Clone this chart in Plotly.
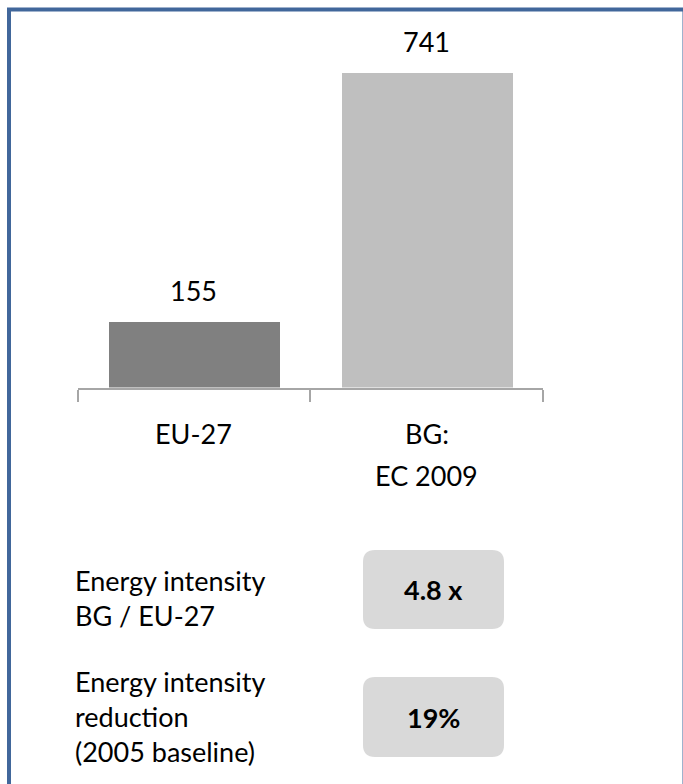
import plotly.graph_objects as go

W, H = 683, 784

# Chart data
categories = ["EU-27", "BG:\nEC 2009"]
values = [155, 741]
bar_colors = ["#808080", "#bfbfbf"]

# Summary rows below the chart
summary_labels = ["Energy intensity<br>BG / EU-27",
                  "Energy intensity<br>reduction<br>(2005 baseline)"]
summary_values = ["4.8 x", "19%"]

FONT = "Lato"
TXT = 27


def px(x):
    return x / W


def py(y):
    return 1 - y / H


fig = go.Figure()
fig.add_trace(go.Bar(
    x=categories, y=values,
    marker=dict(color=bar_colors, line=dict(width=0)),
    width=0.735,
    hoverinfo="skip",
))

# value labels above the bars
for c, v in zip(categories, values):
    fig.add_annotation(x=c, y=v, xref="x", yref="y", text=str(v),
                       showarrow=False, yanchor="bottom", yshift=13,
                       font=dict(family=FONT, size=TXT, color="#000000"))

# category labels under the axis, one line each with wide spacing
for c in categories:
    for i, line in enumerate(c.split("\n")):
        fig.add_annotation(x=c, y=py(433 + 42 * i), xref="x", yref="paper",
                           text=line, showarrow=False, yanchor="middle",
                           font=dict(family=FONT, size=TXT, color="#000000"))

# plot area: baseline at y=387, tallest bar top at y=73
y_bottom, y_top = 387.5, 73
fig.update_layout(
    width=W, height=H,
    margin=dict(l=0, r=0, t=0, b=0),
    paper_bgcolor="white", plot_bgcolor="white",
    showlegend=False,
    bargap=0,
    xaxis=dict(domain=[px(77.5), px(543)], range=[-0.5, 1.5],
               type="category", showline=True, linecolor="#a6a6a6",
               linewidth=2, ticks="outside", tickson="boundaries",
               ticklen=12, tickwidth=2, tickcolor="#a6a6a6",
               showgrid=False, zeroline=False, showticklabels=False),
    yaxis=dict(domain=[py(y_bottom), py(y_top)], range=[0, max(values)],
               visible=False, showgrid=False, zeroline=False),
    font=dict(family=FONT, size=TXT, color="#000000"),
)


def rounded_rect(x0, y0, x1, y1, r):
    X0, X1 = px(x0), px(x1)
    Y0, Y1 = py(y0), py(y1)
    rx, ry = r / W, r / H
    return (f"M {X0+rx},{Y0} L {X1-rx},{Y0} Q {X1},{Y0} {X1},{Y0-ry} "
            f"L {X1},{Y1+ry} Q {X1},{Y1} {X1-rx},{Y1} "
            f"L {X0+rx},{Y1} Q {X0},{Y1} {X0},{Y1+ry} "
            f"L {X0},{Y0-ry} Q {X0},{Y0} {X0+rx},{Y0} Z")


boxes = [(363, 550, 504, 629), (363, 677, 504, 757)]
label_centers = [598, 716]
for (x0, y0, x1, y1), lab, val, lc in zip(boxes, summary_labels,
                                          summary_values, label_centers):
    fig.add_shape(type="path", path=rounded_rect(x0, y0, x1, y1, 12),
                  xref="paper", yref="paper", fillcolor="#d9d9d9",
                  line=dict(width=0), layer="below")
    fig.add_annotation(x=px((x0 + x1) / 2), y=py((y0 + y1) / 2),
                       xref="paper", yref="paper", showarrow=False,
                       xanchor="center", yanchor="middle",
                       text=f"<b>{val}</b>",
                       font=dict(family=FONT, size=TXT, color="#000000"))
    fig.add_annotation(x=px(73), y=py(lc), xref="paper", yref="paper",
                       showarrow=False, xanchor="left", yanchor="middle",
                       align="left", text=lab,
                       font=dict(family=FONT, size=TXT, color="#000000"))

# outer frame
fig.add_shape(type="rect", xref="paper", yref="paper",
              x0=px(9), x1=px(684.5), y0=py(800), y1=py(9.5),
              line=dict(color="#41679b", width=4), fillcolor="rgba(0,0,0,0)")

fig.write_html("out.html")
